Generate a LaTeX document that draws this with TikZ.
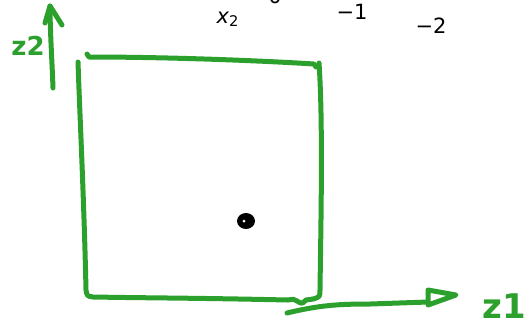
\documentclass[tikz,border=0pt]{standalone}
\usepackage{fontspec}
\setmainfont{DejaVu Sans}
\usetikzlibrary{arrows.meta}
\definecolor{pen}{HTML}{2CA02C}
\definecolor{ink}{HTML}{000000}
\tikzset{
  stroke/.style={draw=pen, line width=2.5pt, line cap=round, line join=round},
  tick/.style={font=\fontsize{10.5}{12}\selectfont, color=ink, inner sep=0pt},
  hand/.style={font=\fontsize{17}{19}\selectfont\bfseries, color=pen, inner sep=0pt}
}

\begin{document}
\begin{tikzpicture}[x=0.5pt,y=-0.5pt]
  \useasboundingbox (0,0) rectangle (529,323);

  % tick labels
  \node[tick] (xlab) at (228,19) {\textit{x}\textsubscript{2}};
  \node[tick] (t0) at (275,-4) {0};
  \node[tick] (tm1) at (352,12) {−1};
  \node[tick] (tm2) at (431,26) {−2};

  % the square
  \draw[stroke] (87,54) -- (89,57) .. controls (160,57) and (250,60) .. (314,64) -- (316,67);
  \draw[stroke] (319,63) .. controls (323,120) and (321,220) .. (320,289)
      .. controls (320,297) .. (313,299) -- (306,300)
      .. controls (302,304) .. (297,301) .. controls (294,299) .. (288,300)
      .. controls (200,298) and (150,298) .. (93,297)
      .. controls (87,296) .. (86,290) .. controls (84,200) and (80,120) .. (78,62);

  % point
  \fill[ink] (246,221) ellipse (9 and 8);
  \fill[white] (244,221) circle (1.5);

  % axis z2
  \coordinate (ybot) at (53,88);
  \coordinate (ytop) at (50,6);
  \draw[stroke] (ybot) .. controls (52,60) and (50,30) .. (ytop);
  \draw[stroke] (45,23) -- (ytop) -- (62,25);
  \node[hand, font=\fontsize{13}{15}\selectfont\bfseries] (zlab2) at (28,46) {z2};

  % axis z1
  \coordinate (xbeg) at (287,313);
  \coordinate (xend) at (428,302);
  \draw[stroke] (xbeg) .. controls (320,305) and (340,304) .. (370,304) -- (xend);
  \draw[stroke] (428,290) -- (456,295) -- (428,305) -- cycle;
  \node[hand, anchor=west] (zlab1) at (482,306) {z1};
\end{tikzpicture}
\end{document}
